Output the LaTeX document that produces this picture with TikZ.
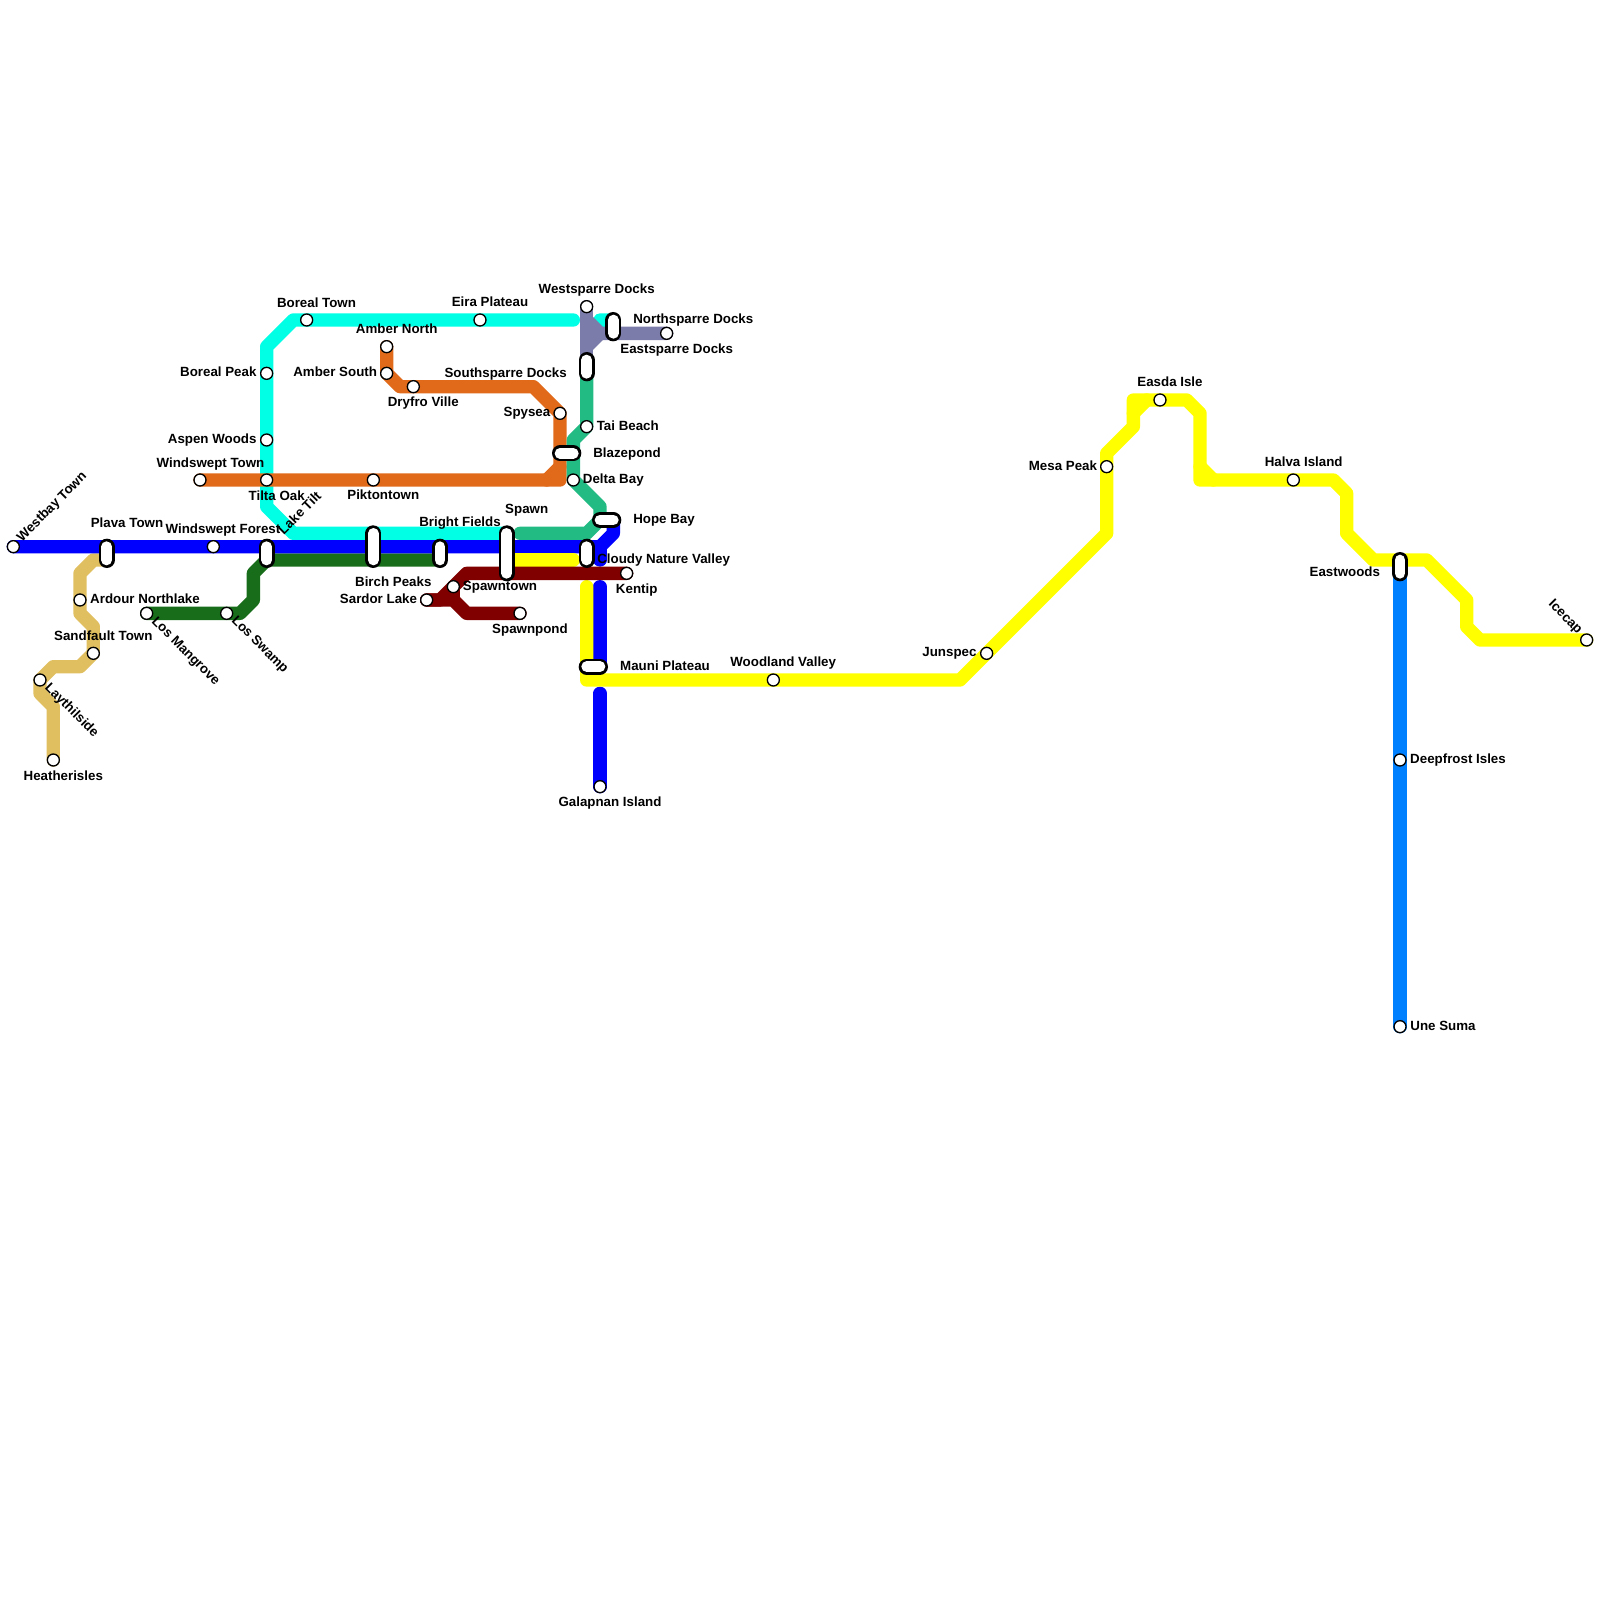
\documentclass[tikz,border=0pt]{standalone}
\usepackage{fontspec}
\setmainfont{Liberation Sans}
\pgfdeclarelayer{lines}
\pgfsetlayers{lines,main}
\definecolor{cBlue}{HTML}{0000FF}
\definecolor{cCyan}{HTML}{00FFE5}
\definecolor{cOrange}{HTML}{E06A1A}
\definecolor{cGreen}{HTML}{22BB84}
\definecolor{cPurple}{HTML}{7C7CAA}
\definecolor{cYellow}{HTML}{FFFF00}
\definecolor{cMaroon}{HTML}{800000}
\definecolor{cForest}{HTML}{186D1A}
\definecolor{cTan}{HTML}{E0BF60}
\definecolor{cAzure}{HTML}{0080FF}
\tikzset{
  grid/.style={x=13.3333pt,y=-13.3333pt},
  stn/.style={circle,draw=black,fill=white,line width=1.33pt,minimum size=12pt,inner sep=0pt,outer sep=0pt},
  metro/.style={line width=13.33pt,line cap=round,line join=round},
  pill/.style={draw=black,line width=2.67pt,double=white,double distance=10.67pt,line cap=round},
  lbl/.style={inner sep=0pt,outer sep=0pt,font=\bfseries\fontsize{13.33}{15}\selectfont,text=black},
}
\begin{document}
\begin{tikzpicture}[x=1pt,y=-1pt]
\useasboundingbox (0,0) rectangle (1600,1600);
\begin{scope}[grid]
% stations
\node[stn] (Westbay) at (1,41) {};
\node[stn] (WindForest) at (16,41) {};
\node[stn] (WindTown) at (15,36) {};
\node[stn] (TiltaOak) at (20,36) {};
\node[stn] (Aspen) at (20,33) {};
\node[stn] (BorealPeak) at (20,28) {};
\node[stn] (BorealTown) at (23,24) {};
\node[stn] (Eira) at (36,24) {};
\node[stn] (AmberN) at (29,26) {};
\node[stn] (AmberS) at (29,28) {};
\node[stn] (Dryfro) at (31,29) {};
\node[stn] (Spysea) at (42,31) {};
\node[stn] (Piktontown) at (28,36) {};
\node[stn] (Westsparre) at (44,23) {};
\node[stn] (Eastsparre) at (50,25) {};
\node[stn] (TaiBeach) at (44,32) {};
\node[stn] (DeltaBay) at (43,36) {};
\node[stn] (Ardour) at (6,45) {};
\node[stn] (Sandfault) at (7,49) {};
\node[stn] (Laythilside) at (3,51) {};
\node[stn] (Heatherisles) at (4,57) {};
\node[stn] (Mangrove) at (11,46) {};
\node[stn] (LosSwamp) at (17,46) {};
\node[stn] (Sardor) at (32,45) {};
\node[stn] (Spawntown) at (34,44) {};
\node[stn] (Spawnpond) at (39,46) {};
\node[stn] (Kentip) at (47,43) {};
\node[stn] (Galapnan) at (45,59) {};
\node[stn] (Woodland) at (58,51) {};
\node[stn] (Junspec) at (74,49) {};
\node[stn] (Mesa) at (83,35) {};
\node[stn] (Easda) at (87,30) {};
\node[stn] (Halva) at (97,36) {};
\node[stn] (Icecap) at (119,48) {};
\node[stn] (Deepfrost) at (105,57) {};
\node[stn] (UneSuma) at (105,77) {};
% interchange ends
\coordinate (PlavaA) at (8,41);
\coordinate (PlavaB) at (8,42);
\coordinate (TiltA) at (20,41);
\coordinate (TiltB) at (20,42);
\coordinate (BirchA) at (28,40);
\coordinate (BirchB) at (28,42);
\coordinate (BrightA) at (33,41);
\coordinate (BrightB) at (33,42);
\coordinate (SpawnA) at (38,40);
\coordinate (SpawnB) at (38,43);
\coordinate (CloudyA) at (44,41);
\coordinate (CloudyB) at (44,42);
\coordinate (HopeA) at (45,39);
\coordinate (HopeB) at (46,39);
\coordinate (MauniA) at (44,50);
\coordinate (MauniB) at (45,50);
\coordinate (BlazeA) at (42,34);
\coordinate (BlazeB) at (43,34);
\coordinate (NorthA) at (46,24);
\coordinate (NorthB) at (46,25);
\coordinate (SouthA) at (44,27);
\coordinate (SouthB) at (44,28);
\coordinate (EastwA) at (105,42);
\coordinate (EastwB) at (105,43);
% interchanges
\draw[pill] (PlavaA) -- (PlavaB);
\draw[pill] (TiltA) -- (TiltB);
\draw[pill] (BirchA) -- (BirchB);
\draw[pill] (BrightA) -- (BrightB);
\draw[pill] (SpawnA) -- (SpawnB);
\draw[pill] (CloudyA) -- (CloudyB);
\draw[pill] (HopeA) -- (HopeB);
\draw[pill] (MauniA) -- (MauniB);
\draw[pill] (BlazeA) -- (BlazeB);
\draw[pill] (NorthA) -- (NorthB);
\draw[pill] (SouthA) -- (SouthB);
\draw[pill] (EastwA) -- (EastwB);
% lines
\begin{pgfonlayer}{lines}
\draw[metro,cTan] (PlavaB) -- (7,42) -- (6,43) -- (Ardour.center) -- (6,46) -- (7,47) -- (Sandfault.center) -- (6,50) -- (4,50) -- (Laythilside.center) -- (3,52) -- (4,53) -- (Heatherisles.center);
\draw[metro,cCyan] (43,24) -- (Eira.center) -- (BorealTown.center) -- (22,24) -- (20,26) -- (BorealPeak.center) -- (Aspen.center) -- (TiltaOak.center) -- (20,38) -- (22,40) -- (BirchA) -- (SpawnA);
\draw[metro,cCyan] (NorthA) -- (45,24) -- (NorthB);
\draw[metro,cOrange] (AmberN.center) -- (AmberS.center) -- (30,29) -- (Dryfro.center) -- (40,29) -- (Spysea.center) -- (42,36) -- (Piktontown.center) -- (TiltaOak.center) -- (WindTown.center);
\draw[metro,cOrange] (41,36) -- (42,35);
\draw[metro,cGreen] (SouthB) -- (TaiBeach.center) -- (43,33) -- (DeltaBay.center) -- (45,38) -- (HopeA) -- (44,40) -- (39,40);
\draw[metro,cPurple] (Westsparre.center) -- (SouthA);
\draw[metro,cPurple] (44,24) -- (45,25) -- (Eastsparre.center);
\draw[metro,cPurple] (44,26) -- (45,25);
\draw[metro,cForest] (Mangrove.center) -- (LosSwamp.center) -- (18,46) -- (19,45) -- (19,43) -- (TiltB) -- (BrightB);
\draw[metro,cBlue] (Westbay.center) -- (PlavaA) -- (WindForest.center) -- (TiltA) -- (BrightA) -- (CloudyA) -- (45,41) -- (46,40) -- (HopeB);
\draw[metro,cBlue] (45,41) -- (45,42);
\draw[metro,cBlue] (45,44) -- (MauniB);
\draw[metro,cBlue] (45,52) -- (Galapnan.center);
\draw[metro,cYellow] (38,42) -- (43,42);
\draw[metro,cYellow] (44,44) -- (MauniA) -- (44,51) -- (Woodland.center) -- (72,51) -- (Junspec.center) -- (83,40) -- (Mesa.center) -- (83,34) -- (85,32) -- (85,30) -- (Easda.center) -- (89,30) -- (90,31) -- (90,36) -- (Halva.center) -- (100,36) -- (101,37) -- (101,40) -- (103,42) -- (EastwA) -- (107,42) -- (110,45) -- (110,47) -- (111,48) -- (Icecap.center);
\draw[metro,cYellow] (85,31) -- (86,30);
\draw[metro,cYellow] (90,35) -- (91,36);
\draw[metro,cMaroon] (Kentip.center) -- (35,43) -- (33,45) -- (Sardor.center);
\draw[metro,cMaroon] (Sardor.center) -- (34,45) -- (35,46) -- (Spawnpond.center);
\draw[metro,cMaroon] (Spawntown.center) -- (34,45);
\draw[metro,cAzure] (EastwB) -- (Deepfrost.center) -- (UneSuma.center);
\end{pgfonlayer}
\end{scope}
% labels
\node[lbl,rotate=45] (tWestbay) at (52.2,507.2) {Westbay Town};
\node[lbl] (tPlava) at (127,522.7) {Plava Town};
\node[lbl] (tWindForest) at (223,530.3) {Windswept Forest};
\node[lbl,rotate=45] (tLakeTilt) at (299.5,512.7) {Lake Tilt};
\node[lbl] (tTilta) at (276.7,496) {Tilta Oak};
\node[lbl] (tWindTown) at (210.5,463.7) {Windswept Town};
\node[lbl] (tArdour) at (145,598.6) {Ardour Northlake};
\node[lbl,rotate=-45] (tMangrove) at (185.2,651.7) {Los Mangrove};
\node[lbl,rotate=-45] (tSwamp) at (259.5,645.2) {Los Swamp};
\node[lbl] (tSandfault) at (103.3,635.3) {Sandfault Town};
\node[lbl,rotate=-45] (tLayth) at (71.5,710.7) {Laythilside};
\node[lbl] (tHeather) at (63.3,776) {Heatherisles};
\node[lbl,anchor=east] (tAspen) at (256.5,440) {Aspen Woods};
\node[lbl,anchor=east] (tBPeak) at (256.5,371.5) {Boreal Peak};
\node[lbl] (tBTown) at (316.5,303) {Boreal Town};
\node[lbl] (tEira) at (490,302) {Eira Plateau};
\node[lbl] (tAmberN) at (396.7,328.6) {Amber North};
\node[lbl,anchor=east] (tAmberS) at (377,372) {Amber South};
\node[lbl] (tSouthsparre) at (505.7,373.7) {Southsparre Docks};
\node[lbl] (tDryfro) at (423.3,402.7) {Dryfro Ville};
\node[lbl,anchor=east] (tSpysea) at (550.3,413.7) {Spysea};
\node[lbl] (tPikt) at (383.3,495) {Piktontown};
\node[lbl] (tSpawn) at (526.7,510.3) {Spawn};
\node[lbl] (tWestsparre) at (596.7,290.3) {Westsparre Docks};
\node[lbl] (tNorthsparre) at (693.3,320.3) {Northsparre Docks};
\node[lbl] (tEastsparre) at (676.7,350.3) {Eastsparre Docks};
\node[lbl] (tTai) at (627.8,426) {Tai Beach};
\node[lbl] (tBlaze) at (627,453.7) {Blazepond};
\node[lbl] (tDelta) at (613.3,480.3) {Delta Bay};
\node[lbl] (tHope) at (664,520.3) {Hope Bay};
\node[lbl] (tBright) at (460,522.7) {Bright Fields};
\node[lbl,anchor=west] (tCloudy) at (597.3,560.3) {Cloudy Nature Valley};
\node[lbl] (tKentip) at (636.7,590) {Kentip};
\node[lbl] (tSpawntown) at (500,587) {Spawntown};
\node[lbl] (tSpawnpond) at (530,630.3) {Spawnpond};
\node[lbl] (tBirch) at (393.3,582) {Birch Peaks};
\node[lbl,anchor=east] (tSardor) at (417,598.3) {Sardor Lake};
\node[lbl] (tMauni) at (665,666) {Mauni Plateau};
\node[lbl] (tWoodland) at (783.2,663) {Woodland Valley};
\node[lbl] (tGalapnan) at (610,803) {Galapnan Island};
\node[lbl,anchor=east] (tJunspec) at (976.5,653) {Junspec};
\node[lbl,anchor=east] (tMesa) at (1097,466) {Mesa Peak};
\node[lbl] (tEasda) at (1170,382) {Easda Isle};
\node[lbl] (tHalva) at (1303.7,462) {Halva Island};
\node[lbl,anchor=east] (tEastwoods) at (1380,572) {Eastwoods};
\node[lbl,rotate=-45] (tIcecap) at (1565,617.3) {Icecap};
\node[lbl] (tDeepfrost) at (1458,760) {Deepfrost Isles};
\node[lbl] (tUne) at (1443,1025.5) {Une Suma};
\end{tikzpicture}
\end{document}
